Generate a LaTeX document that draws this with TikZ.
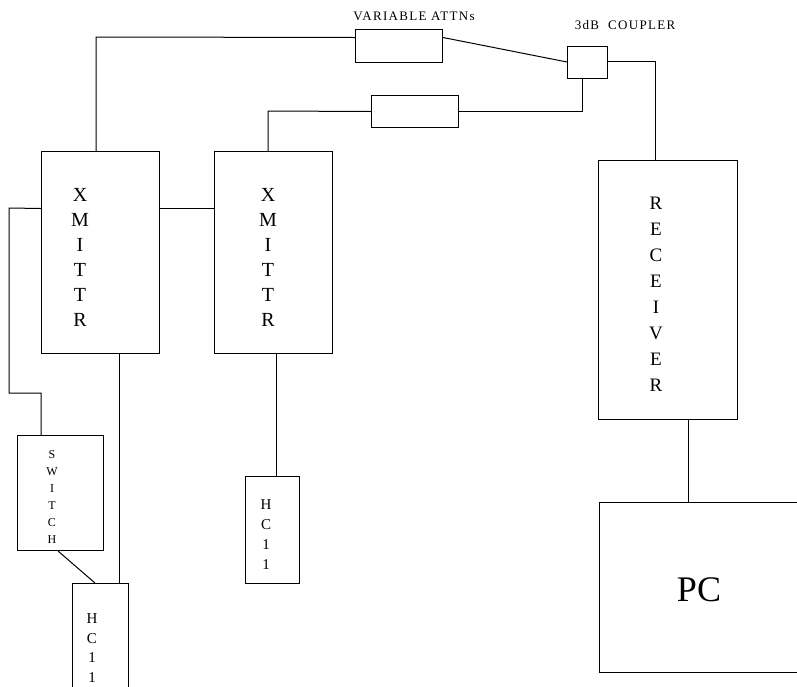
\documentclass[tikz,border=0pt]{standalone}
\usepackage{fontspec}
\setmainfont{Liberation Serif}
\begin{document}
\begin{tikzpicture}[x=1pt,y=-1pt,
  blk/.style={draw,line width=1pt,inner sep=0pt,anchor=north west},
  wire/.style={line width=1pt},
  lbl/.style={inner sep=0pt,align=center}]
\clip (0,0) rectangle (797,686);
\fill[white] (0,0) rectangle (797,686);
% boxes
\node[blk,minimum width=87pt,minimum height=33pt] (att1) at (355,29) {};
\node[blk,minimum width=40pt,minimum height=32pt] (cpl) at (567,46) {};
\node[blk,minimum width=87pt,minimum height=32pt] (att2) at (371,95) {};
\node[blk,minimum width=118pt,minimum height=202pt] (x1) at (41,151) {};
\node[blk,minimum width=118pt,minimum height=202pt] (x2) at (214,151) {};
\node[blk,minimum width=139pt,minimum height=259pt] (rx) at (598,160) {};
\node[blk,minimum width=230pt,minimum height=170pt] (pc) at (599,502) {};
\node[blk,minimum width=86pt,minimum height=115pt] (sw) at (17,435) {};
\node[blk,minimum width=56pt,minimum height=130pt] (hca) at (72,583) {};
\node[blk,minimum width=54pt,minimum height=107pt] (hcb) at (245,476) {};
% texts
\node[lbl,font=\fontsize{13}{15}\selectfont\addfontfeature{LetterSpace=10}] (tva) at (414,16) {VARIABLE ATTNs};
\node[lbl,font=\fontsize{13}{15}\selectfont\addfontfeature{LetterSpace=10}] (tcp) at (625,25) {3dB\ \ COUPLER};
\node[lbl,font=\fontsize{20}{25}\selectfont] (t1) at (80,257) {X\\M\\I\\T\\T\\R};
\node[lbl,font=\fontsize{20}{25}\selectfont] (t2) at (268,257) {X\\M\\I\\T\\T\\R};
\node[lbl,font=\fontsize{19}{26}\selectfont] (trx) at (656,294) {R\\E\\C\\E\\I\\V\\E\\R};
\node[lbl,font=\fontsize{12}{17}\selectfont] (tsw) at (52,497) {S\\W\\I\\T\\C\\H};
\node[lbl,font=\fontsize{15}{20}\selectfont] (thb) at (266,535) {H\\C\\1\\1};
\node[lbl,font=\fontsize{15}{19.5}\selectfont] (tha) at (92,648) {H\\C\\1\\1};
\node[lbl,font=\fontsize{36}{40}\selectfont] (tpc) at (699,590) {PC};
% connectors
\coordinate (k1) at (96,37);
\coordinate (k2) at (268,111);
\draw[wire] ([yshift=8.5pt]att1.west) -- (k1) -- (x1.north -| k1);
\draw[wire] ([yshift=8.5pt]att1.east) -- ([yshift=-16pt]cpl.north west);
\draw[wire] ([yshift=1pt]cpl.east) -| (rx.north -| 655,0);
\draw[wire] (cpl.south -| 582,0) |- (att2.east);
\draw[wire] (att2.west) -- (k2) -- (x2.north -| k2);
\draw[wire] ([yshift=44pt]x1.east) -- ([yshift=44pt]x2.west);
\coordinate (l1) at (9,208);
\coordinate (l2) at (9,393);
\coordinate (l3) at (41,393);
\draw[wire] ([yshift=44pt]x1.west) -- (l1) -- (l2) -- (l3) -- (sw.north -| l3);
\draw[wire] (x1.south -| 119,0) -- (hca.north -| 119,0);
\draw[wire] (sw.south -| 58,0) -- (hca.north -| 95,0);
\draw[wire] (x2.south -| 276,0) -- (hcb.north -| 276,0);
\draw[wire] (rx.south -| 688,0) -- (pc.north -| 688,0);
\end{tikzpicture}
\end{document}
